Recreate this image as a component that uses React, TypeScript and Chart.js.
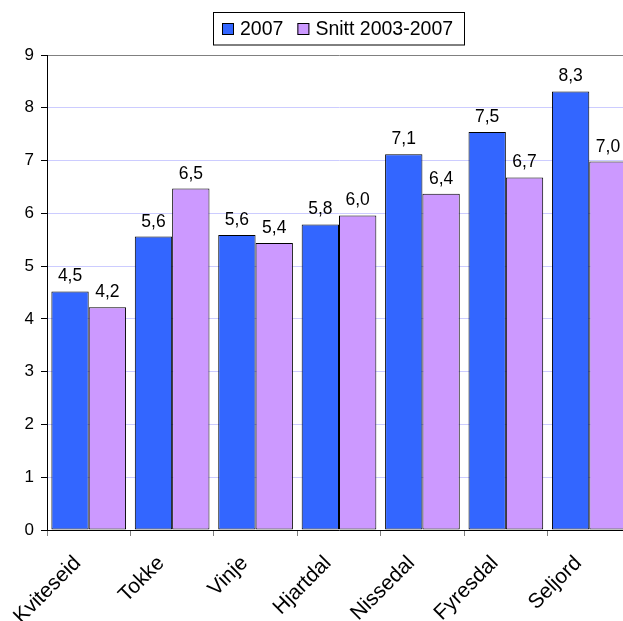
import React, { useEffect, useRef } from 'react';
import { Chart, registerables } from 'chart.js';

Chart.register(...registerables);

const FONT = '"Liberation Sans", Arial, Helvetica, sans-serif';

const categories = ['Kviteseid', 'Tokke', 'Vinje', 'Hjartdal', 'Nissedal', 'Fyresdal', 'Seljord'];
const seriesNames = ['2007', 'Snitt 2003-2007'];
const values2007 = [4.52, 5.56, 5.59, 5.79, 7.12, 7.54, 8.31];
const valuesSnitt = [4.22, 6.47, 5.44, 5.96, 6.37, 6.68, 6.98];
const yMin = 0;
const yMax = 9;
const yStep = 1;

const colors = ['#3366FF', '#CC99FF'];

const fmt = (v: number) => v.toFixed(1).replace('.', ',');

const valueLabels = {
  id: 'valueLabels',
  afterDatasetsDraw(chart: any) {
    const ctx = chart.ctx;
    ctx.save();
    ctx.font = `17.5px ${FONT}`;
    ctx.fillStyle = '#000';
    ctx.textAlign = 'center';
    ctx.textBaseline = 'alphabetic';
    chart.data.datasets.forEach((ds: any, i: number) => {
      const meta = chart.getDatasetMeta(i);
      meta.data.forEach((bar: any, j: number) => {
        ctx.fillText(fmt(ds.data[j]), bar.x, bar.y - 10);
      });
    });
    ctx.restore();
  },
};

const boxLegend = {
  id: 'boxLegend',
  afterDraw(chart: any) {
    const ctx = chart.ctx;
    ctx.save();
    ctx.font = `19.5px ${FONT}`;
    const items = chart.data.datasets.map((ds: any) => ({
      label: ds.label,
      color: ds.backgroundColor,
      w: ctx.measureText(ds.label).width,
    }));
    const padL = 8, padR = 12, marker = 12, gapMT = 6, gapItems = 14;
    let total = padL + padR;
    items.forEach((it: any, i: number) => {
      total += marker + gapMT + it.w + (i > 0 ? gapItems : 0);
    });
    const cx = (chart.chartArea.left + chart.chartArea.right) / 2;
    const left = Math.round(cx - total / 2) + 0.5;
    const top = 12.5;
    const h = 32.5;
    ctx.fillStyle = '#fff';
    ctx.fillRect(left, top, total, h);
    ctx.strokeStyle = '#000';
    ctx.lineWidth = 1;
    ctx.strokeRect(left, top, Math.round(total), h);
    const cy = top + h / 2;
    let x = Math.round(left + padL);
    items.forEach((it: any, i: number) => {
      if (i > 0) x += gapItems;
      ctx.fillStyle = it.color;
      ctx.fillRect(x, Math.round(cy - 6), 12, 12);
      ctx.strokeStyle = '#000';
      ctx.strokeRect(x + 0.5, Math.round(cy - 6) + 0.5, 11, 11);
      x += marker + gapMT;
      ctx.fillStyle = '#000';
      ctx.textAlign = 'left';
      ctx.textBaseline = 'middle';
      ctx.fillText(it.label, x, cy + 1);
      x += it.w;
    });
    ctx.restore();
  },
};

export default function App() {
  const canvasRef = useRef<HTMLCanvasElement | null>(null);

  useEffect(() => {
    if (!canvasRef.current) return;
    const chart = new Chart(canvasRef.current, {
      type: 'bar',
      data: {
        labels: categories,
        datasets: [
          {
            label: seriesNames[0],
            data: values2007,
            backgroundColor: colors[0],
            borderColor: '#000',
            borderWidth: 1,
            borderSkipped: false,
            barPercentage: 1,
            categoryPercentage: 0.895,
          },
          {
            label: seriesNames[1],
            data: valuesSnitt,
            backgroundColor: colors[1],
            borderColor: '#000',
            borderWidth: 1,
            borderSkipped: false,
            barPercentage: 1,
            categoryPercentage: 0.895,
          },
        ],
      },
      options: {
        responsive: false,
        animation: false,
        layout: { padding: { top: 55, right: 9, left: 0, bottom: 0 } },
        plugins: {
          legend: { display: false },
          tooltip: { enabled: false },
        },
        scales: {
          x: {
            grid: {
              offset: true,
              drawOnChartArea: false,
              drawTicks: true,
              tickLength: 6,
              tickColor: '#808080',
            },
            border: { color: '#000', width: 1 },
            ticks: {
              font: { size: 21, family: FONT },
              color: '#000',
              maxRotation: 45,
              minRotation: 45,
              autoSkip: false,
              padding: 15,
              labelOffset: -11,
            },
            afterFit: (s: any) => {
              s.height = 91;
            },
          },
          y: {
            min: yMin,
            max: yMax,
            ticks: {
              stepSize: yStep,
              font: { size: 17, family: FONT },
              color: '#000',
              padding: 7,
            },
            grid: {
              color: (c: any) => (c.tick && c.tick.value === yMax ? '#808080' : '#CCCCFF'),
              tickLength: 6,
              tickColor: '#000',
            },
            border: { color: '#000', width: 1 },
            afterFit: (s: any) => {
              s.width = 47;
            },
          },
        },
      },
      plugins: [valueLabels, boxLegend],
    });
    return () => chart.destroy();
  }, []);

  return (
    <div
      style={{
        position: 'fixed',
        left: 0,
        top: 0,
        width: 623,
        height: 621,
        overflow: 'hidden',
        background: '#fff',
      }}
    >
      <canvas ref={canvasRef} width={640} height={621} style={{ display: 'block' }} />
    </div>
  );
}
